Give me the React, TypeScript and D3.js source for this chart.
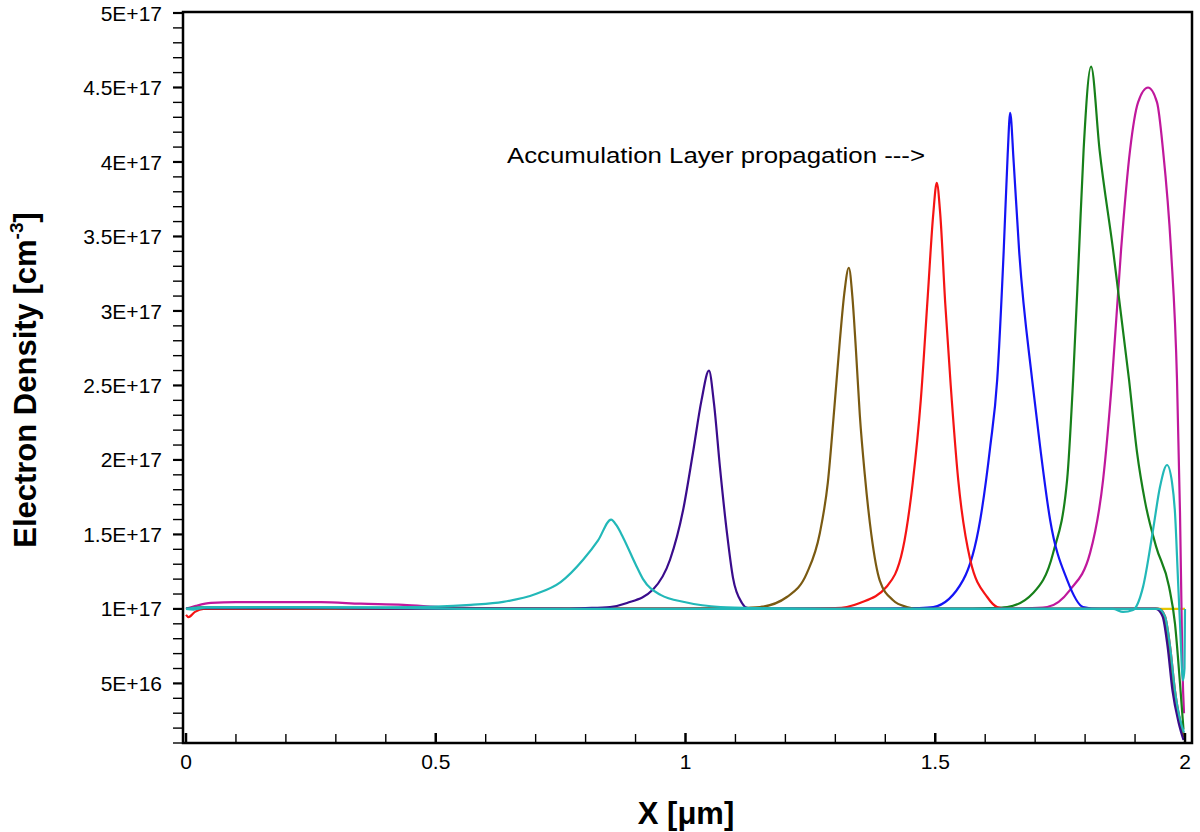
import React from "react";
import * as d3 from "d3";

const UNIT = 1e17;

// x in µm, value in units of 1E17 cm^-3
const seriesGold: [number, number][] = [
  [0, 1.0], [0.5, 1.0], [1.0, 1.0], [1.5, 1.0], [1.95, 1.0], [2.0, 1.0],
];

const seriesMagenta: [number, number][] = [
  [0, 1.0], [0.02, 1.02], [0.05, 1.04], [0.1, 1.045], [0.27, 1.045], [0.35, 1.035],
  [0.435, 1.027], [0.52, 1.01], [0.6, 1.005], [0.8, 1.0], [1.6, 1.0], [1.68, 1.004],
  [1.724, 1.013], [1.77, 1.128], [1.81, 1.376], [1.836, 1.866], [1.854, 2.537],
  [1.872, 3.41], [1.89, 4.08], [1.906, 4.4], [1.926, 4.5], [1.944, 4.4], [1.956, 4.08],
  [1.972, 3.41], [1.984, 2.537], [1.99, 1.644], [1.993, 1.0], [1.995, 0.6], [1.998, 0.3],
];

const seriesGreen: [number, number][] = [
  [0, 1.0], [0.03, 1.01], [0.2, 1.01], [0.45, 1.0], [1.55, 1.0], [1.6, 1.004],
  [1.644, 1.013], [1.696, 1.107], [1.736, 1.376], [1.764, 1.866], [1.776, 2.537],
  [1.788, 3.41], [1.797, 4.08], [1.812, 4.64], [1.829, 4.08], [1.856, 3.41],
  [1.888, 2.537], [1.904, 2.05], [1.92, 1.72], [1.942, 1.42], [1.968, 1.15],
  [1.98, 0.9], [1.99, 0.5], [1.997, 0.19],
];

const seriesBlue: [number, number][] = [
  [0, 1.0], [0.03, 1.005], [0.3, 1.005], [0.6, 1.0], [1.4, 1.0], [1.46, 1.005],
  [1.496, 1.013], [1.556, 1.195], [1.59, 1.597], [1.61, 2.087], [1.624, 2.537],
  [1.637, 3.4], [1.645, 4.05], [1.65, 4.33], [1.657, 4.0], [1.668, 3.4],
  [1.694, 2.537], [1.71, 2.087], [1.73, 1.597], [1.764, 1.195], [1.796, 1.013],
  [1.83, 1.0], [1.945, 1.0], [1.958, 0.95], [1.968, 0.75], [1.978, 0.45],
  [1.99, 0.25], [1.998, 0.14],
];

const seriesRed: [number, number][] = [
  [0, 0.96], [0.005, 0.945], [0.018, 0.98], [0.035, 1.0], [0.3, 1.003], [0.6, 1.0],
  [1.2, 1.0], [1.3, 1.005], [1.323, 1.013], [1.349, 1.04], [1.403, 1.15],
  [1.435, 1.4], [1.455, 1.85], [1.471, 2.4], [1.485, 3.1], [1.496, 3.65],
  [1.503, 3.86], [1.51, 3.65], [1.52, 3.05], [1.531, 2.5], [1.546, 1.866],
  [1.57, 1.33], [1.604, 1.08], [1.624, 1.013], [1.65, 1.0], [1.948, 1.0],
  [1.96, 0.95], [1.97, 0.75], [1.98, 0.45], [1.99, 0.25], [1.998, 0.15],
];

const seriesOlive: [number, number][] = [
  [0, 1.0], [0.03, 1.005], [0.3, 1.005], [0.6, 1.0], [1.0, 1.0], [1.1, 1.005],
  [1.149, 1.013], [1.203, 1.08], [1.243, 1.24], [1.269, 1.51], [1.285, 1.85],
  [1.298, 2.35], [1.309, 2.8], [1.318, 3.12], [1.327, 3.29], [1.334, 3.1],
  [1.341, 2.75], [1.349, 2.3], [1.359, 1.9], [1.372, 1.5], [1.389, 1.19],
  [1.415, 1.06], [1.443, 1.013], [1.47, 1.0], [1.946, 1.0], [1.958, 0.95],
  [1.968, 0.75], [1.978, 0.45], [1.99, 0.24], [1.998, 0.14],
];

const seriesIndigo: [number, number][] = [
  [0, 1.0], [0.03, 1.005], [0.3, 1.005], [0.6, 1.0], [0.75, 1.0], [0.8, 1.005],
  [0.849, 1.013], [0.883, 1.04], [0.935, 1.13], [0.969, 1.33], [0.995, 1.66],
  [1.015, 2.05], [1.032, 2.4], [1.047, 2.6], [1.057, 2.38], [1.069, 1.95],
  [1.083, 1.51], [1.095, 1.21], [1.113, 1.04], [1.123, 1.007], [1.14, 1.0],
  [1.942, 1.0], [1.955, 0.95], [1.965, 0.75], [1.975, 0.45], [1.987, 0.24],
  [1.997, 0.12],
];

const seriesCyanA: [number, number][] = [
  [0, 1.0], [0.015, 0.995], [0.04, 1.01], [0.2, 1.012], [0.4, 1.01], [0.5, 1.015],
  [0.57, 1.027], [0.635, 1.047], [0.7, 1.1], [0.75, 1.18], [0.795, 1.33],
  [0.825, 1.46], [0.851, 1.6], [0.862, 1.56], [0.875, 1.48], [0.9, 1.3],
  [0.915, 1.2], [0.95, 1.094], [1.0, 1.045], [1.07, 1.013], [1.15, 1.005],
  [1.3, 1.0], [1.947, 1.0], [1.96, 0.95], [1.97, 0.75], [1.98, 0.45],
  [1.99, 0.26], [1.998, 0.17],
];

const seriesCyanB: [number, number][] = [
  [0, 1.0], [0.04, 1.01], [0.3, 1.01], [0.6, 1.0], [1.856, 1.0], [1.876, 0.98],
  [1.896, 0.993], [1.916, 1.148], [1.936, 1.53], [1.95, 1.82], [1.964, 1.966],
  [1.974, 1.85], [1.98, 1.644], [1.986, 1.195], [1.99, 0.9], [1.996, 0.52],
  [1.999, 0.6], [2.0, 1.0],
];

const seriesList = [
  seriesGold, seriesMagenta, seriesGreen, seriesBlue, seriesRed,
  seriesOlive, seriesIndigo, seriesCyanA, seriesCyanB,
];
const seriesColors = [
  "#e6c800", "#c0189c", "#17801a", "#1414f5", "#f51414",
  "#7a5a12", "#3a0c8c", "#22b8b8", "#22b8b8",
];

const yMajorTicks = [0.5, 1, 1.5, 2, 2.5, 3, 3.5, 4, 4.5, 5];
const yTickLabels = [
  "5E+16", "1E+17", "1.5E+17", "2E+17", "2.5E+17", "3E+17",
  "3.5E+17", "4E+17", "4.5E+17", "5E+17",
];
const yMinorTicks = [
  0.1, 0.2, 0.3, 0.4, 0.6, 0.7, 0.8, 0.9, 1.1, 1.2, 1.3, 1.4, 1.6, 1.7, 1.8, 1.9,
  2.1, 2.2, 2.3, 2.4, 2.6, 2.7, 2.8, 2.9, 3.1, 3.2, 3.3, 3.4, 3.6, 3.7, 3.8, 3.9,
  4.1, 4.2, 4.3, 4.4, 4.6, 4.7, 4.8, 4.9,
];
const xMajorTicks = [0, 0.5, 1, 1.5, 2];
const xTickLabels = ["0", "0.5", "1", "1.5", "2"];
const xMinorTicks = [0.1, 0.2, 0.3, 0.4, 0.6, 0.7, 0.8, 0.9, 1.1, 1.2, 1.3, 1.4, 1.6, 1.7, 1.8, 1.9];

const FONT = "'Liberation Sans', Arial, Helvetica, sans-serif";

export default function App() {
  const W = 1200;
  const H = 832;
  const frameL = 183, frameR = 1192, frameT = 12, frameB = 743;

  const x = d3.scaleLinear().domain([0, 2]).range([186, 1185]);
  const y = d3.scaleLinear().domain([0.1 * UNIT, 5 * UNIT]).range([743, 13]);

  const line = d3
    .line<[number, number]>()
    .x((d) => x(d[0]))
    .y((d) => y(d[1] * UNIT))
    .curve(d3.curveMonotoneX);

  return (
    <svg
      width={W}
      height={H}
      style={{ position: "absolute", left: 0, top: 0, background: "#fff" }}
      fontFamily={FONT}
    >
      <rect x={0} y={0} width={W} height={H} fill="#fff" />
      <defs>
        <clipPath id="plotClip">
          <rect x={frameL} y={frameT} width={frameR - frameL} height={frameB - frameT} />
        </clipPath>
      </defs>

      <g clipPath="url(#plotClip)">
        {seriesList.map((s, i) => (
          <path
            key={i}
            d={line(s) || ""}
            fill="none"
            stroke={seriesColors[i]}
            strokeWidth={2.2}
            strokeLinejoin="round"
          />
        ))}
      </g>

      {/* frame */}
      <rect
        x={frameL}
        y={frameT}
        width={frameR - frameL}
        height={frameB - frameT}
        fill="none"
        stroke="#000"
        strokeWidth={2.5}
      />

      {/* y ticks */}
      {yMinorTicks.map((t) => (
        <line key={"ym" + t} x1={frameL - 10} x2={frameL} y1={y(t * UNIT)} y2={y(t * UNIT)} stroke="#000" strokeWidth={1.4} />
      ))}
      {yMajorTicks.map((t, i) => (
        <g key={"yM" + t}>
          <line x1={frameL - 10} x2={frameL} y1={y(t * UNIT)} y2={y(t * UNIT)} stroke="#000" strokeWidth={2.2} />
          <text x={162} y={y(t * UNIT)} dy="0.36em" textAnchor="end" fontSize={21} fill="#000">
            {yTickLabels[i]}
          </text>
        </g>
      ))}

      {/* x ticks */}
      {xMinorTicks.map((t) => (
        <line key={"xm" + t} x1={x(t)} x2={x(t)} y1={frameB} y2={frameB - 9} stroke="#000" strokeWidth={1.4} />
      ))}
      {xMajorTicks.map((t, i) => (
        <g key={"xM" + t}>
          <line x1={x(t)} x2={x(t)} y1={frameB} y2={frameB - 10} stroke="#000" strokeWidth={2.5} />
          <text x={x(t)} y={769} textAnchor="middle" fontSize={21} fill="#000">
            {xTickLabels[i]}
          </text>
        </g>
      ))}

      {/* axis titles */}
      <text x={686} y={824} textAnchor="middle" fontSize={31} fontWeight="bold" fill="#000">
        X [μm]
      </text>
      <text
        transform={`translate(36, 380) rotate(-90)`}
        textAnchor="middle"
        fontSize={31}
        fontWeight="bold"
        fill="#000"
      >
        Electron Density [cm
        <tspan fontSize={19} dy={-13}>-3</tspan>
        <tspan dy={13}>]</tspan>
      </text>

      {/* annotation */}
      <text x={507} y={163} fontSize={22} fill="#000" textLength={418} lengthAdjust="spacingAndGlyphs">
        Accumulation Layer propagation ---&gt;
      </text>
    </svg>
  );
}
